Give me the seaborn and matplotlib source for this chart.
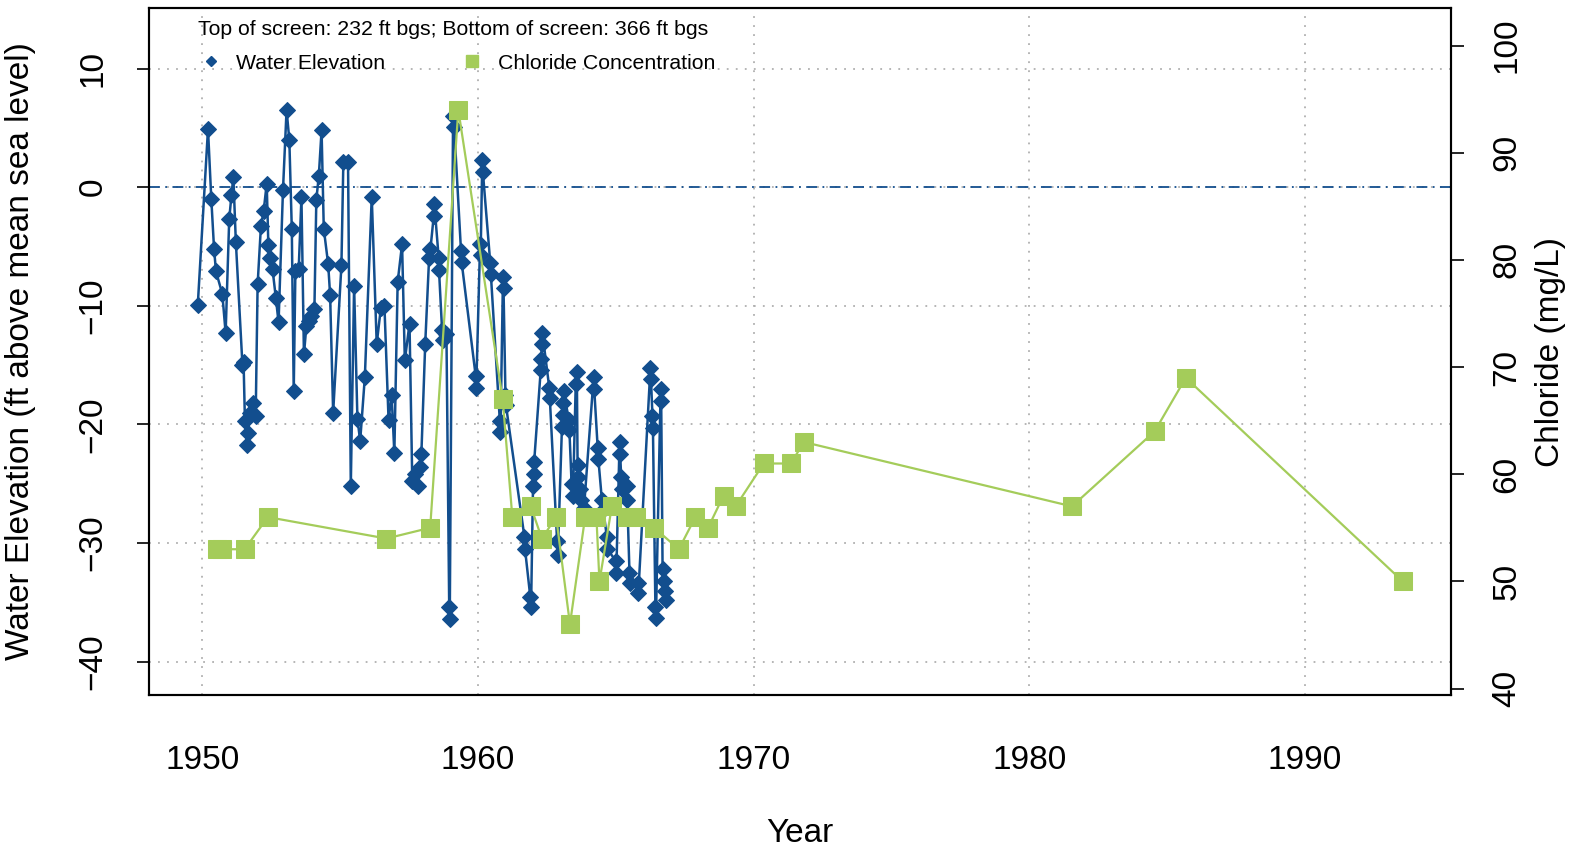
import numpy as np
import pandas as pd
import seaborn as sns
import matplotlib.pyplot as plt
from matplotlib.lines import Line2D

# Water elevation (ft above mean sea level)
water_year = [
    1949.84, 1950.21, 1950.33, 1950.43, 1950.50, 1950.73, 1950.85, 1950.98, 1951.06, 1951.13,
    1951.22, 1951.46, 1951.50, 1951.55, 1951.62, 1951.66, 1951.74, 1951.85, 1951.94, 1952.01,
    1952.13, 1952.23, 1952.34, 1952.40, 1952.47, 1952.55, 1952.67, 1952.77, 1952.93, 1953.06,
    1953.16, 1953.25, 1953.32, 1953.38, 1953.50, 1953.60, 1953.69, 1953.78, 1953.86, 1953.96,
    1954.07, 1954.14, 1954.23, 1954.33, 1954.41, 1954.57, 1954.64, 1954.75, 1955.05, 1955.12,
    1955.29, 1955.39, 1955.51, 1955.63, 1955.73, 1955.90, 1956.15, 1956.33, 1956.48, 1956.61,
    1956.76, 1956.87, 1956.97, 1957.09, 1957.25, 1957.35, 1957.52, 1957.62, 1957.71, 1957.82,
    1957.91, 1957.95, 1958.09, 1958.23, 1958.28, 1958.40, 1958.42, 1958.58, 1958.59, 1958.70,
    1958.72, 1958.86, 1958.96, 1958.98, 1959.10, 1959.14, 1959.39, 1959.41, 1959.92, 1959.94,
    1960.08, 1960.10, 1960.16, 1960.18, 1960.45, 1960.47, 1960.80, 1960.82, 1960.91, 1960.93,
    1961.00, 1961.02, 1961.69, 1961.71, 1961.90, 1961.93, 1962.00, 1962.02, 1962.04, 1962.28,
    1962.30, 1962.32, 1962.34, 1962.59, 1962.61, 1962.88, 1962.90, 1963.05, 1963.07, 1963.09,
    1963.11, 1963.30, 1963.32, 1963.40, 1963.45, 1963.55, 1963.59, 1963.62, 1963.64, 1963.70,
    1963.75, 1963.85, 1964.20, 1964.22, 1964.35, 1964.37, 1964.50, 1964.55, 1964.68, 1964.70,
    1965.00, 1965.02, 1965.14, 1965.16, 1965.20, 1965.22, 1965.40, 1965.42, 1965.50, 1965.52,
    1965.80, 1965.82, 1966.26, 1966.28, 1966.33, 1966.35, 1966.44, 1966.46, 1966.63, 1966.65,
    1966.70, 1966.75, 1966.80, 1966.82,
]
water_elev = [
    -9.9, 4.9, -1.0, -5.2, -7.1, -9.0, -12.3, -2.7, -0.7, 0.85,
    -4.6, -15.0, -14.7, -19.7, -21.7, -20.7, -19.0, -18.2, -19.3, -8.2,
    -3.3, -2.0, 0.3, -4.9, -6.0, -6.9, -9.3, -11.4, -0.25, 6.5,
    4.0, -3.5, -17.2, -7.1, -6.9, -0.85, -14.1, -11.7, -11.3, -10.9,
    -10.3, -1.05, 0.96, 4.8, -3.5, -6.5, -9.1, -19.0, -6.6, 2.1,
    2.15, -25.2, -8.3, -19.5, -21.4, -16.0, -0.8, -13.2, -10.2, -10.0,
    -19.6, -17.5, -22.4, -8.0, -4.8, -14.6, -11.5, -24.8, -24.2, -25.2,
    -23.6, -22.5, -13.2, -6.0, -5.2, -2.4, -1.4, -6.0, -7.0, -12.0,
    -12.9, -12.4, -35.4, -36.4, 6.0, 5.1, -5.4, -6.3, -15.9, -16.9,
    -4.8, -5.7, 2.3, 1.3, -6.4, -7.3, -19.7, -20.6, -7.6, -8.5,
    -17.5, -18.4, -29.5, -30.5, -34.5, -35.4, -25.2, -24.2, -23.2, -15.4,
    -14.5, -13.2, -12.3, -16.9, -17.8, -29.8, -31.0, -20.2, -19.2, -18.2,
    -17.2, -19.6, -20.5, -25.0, -26.0, -16.6, -15.6, -24.4, -23.4, -25.4,
    -26.4, -27.0, -16.0, -17.0, -22.0, -22.9, -26.4, -27.2, -29.5, -30.5,
    -31.5, -32.5, -21.5, -22.5, -24.4, -25.4, -25.2, -26.4, -32.5, -33.4,
    -33.4, -34.2, -15.2, -16.2, -19.3, -20.3, -35.4, -36.3, -17.0, -18.0,
    -32.2, -33.2, -34.0, -34.8,
]

# Chloride concentration (mg/L)
chloride_year = [
    1950.55, 1950.70, 1951.54, 1952.38, 1956.68, 1958.27, 1959.29, 1960.90, 1961.25, 1961.92,
    1962.32, 1962.84, 1963.34, 1963.89, 1964.30, 1964.41, 1964.86, 1965.40, 1965.75, 1966.40,
    1967.29, 1967.89, 1968.35, 1968.91, 1969.35, 1970.37, 1971.35, 1971.83, 1981.55, 1984.55,
    1985.68, 1993.55,
]
chloride_val = [
    53, 53, 53, 56, 54, 55, 94, 67, 56, 57,
    54, 56, 46, 56, 56, 50, 57, 56, 56, 55,
    53, 56, 55, 58, 57, 61, 61, 63, 57, 64,
    69, 50,
]

year_ticks = [1950, 1960, 1970, 1980, 1990]
elev_ticks = [10, 0, -10, -20, -30, -40]
chloride_ticks = [40, 50, 60, 70, 80, 90, 100]

blue = '#124E8E'
green = '#A4CC5A'

sns.set_style('white', {'text.color': 'black', 'axes.labelcolor': 'black',
                        'xtick.color': 'black', 'ytick.color': 'black'})
plt.rcParams['font.family'] = ['Liberation Sans', 'DejaVu Sans']

fig = plt.figure(figsize=(15.8, 8.46), dpi=100)
ax = fig.add_axes([149 / 1580, 1 - 695 / 846, (1451 - 149) / 1580, (695 - 8) / 846])

water = pd.DataFrame({'year': water_year, 'elev': water_elev})
chloride = pd.DataFrame({'year': chloride_year, 'val': chloride_val})

# grid and zero reference line
for yr in year_ticks:
    ax.axvline(yr, color='#b0b0b0', linestyle=(0, (1, 4)), linewidth=1.3, zorder=0)
for e in elev_ticks:
    ax.axhline(e, color='#b0b0b0', linestyle=(0, (1, 4)), linewidth=1.3, zorder=0)
ax.axhline(0, color=blue, linestyle=(0, (6, 3, 1, 3)), linewidth=1.3, zorder=1)

sns.lineplot(data=water, x='year', y='elev', ax=ax, color=blue, linewidth=1.8,
             marker='D', markersize=8.5, markeredgecolor=blue, estimator=None,
             sort=False, zorder=3)

ax.set_xlim(1948.07, 1995.3)
ax.set_ylim(-42.8, 15.1)
ax.set_xticks(year_ticks)
ax.set_yticks(elev_ticks)
ax.set_yticklabels([str(t).replace('-', '\u2212') for t in elev_ticks], rotation=90, va='center')
ax.tick_params(axis='both', labelsize=24, length=9, width=1.2, direction='out',
               color='black', labelcolor='black')
ax.tick_params(axis='x', pad=27)
ax.tick_params(axis='y', pad=20)
ax.set_xlabel('Year', fontsize=24, labelpad=30, color='black')
ax.set_ylabel('Water Elevation (ft above mean sea level)', fontsize=24, labelpad=30, color='black')
for s in ax.spines.values():
    s.set_color('black')
    s.set_linewidth(1.5)

ax2 = ax.twinx()
sns.lineplot(data=chloride, x='year', y='val', ax=ax2, color=green, linewidth=1.6,
             marker='s', markersize=13.5, markeredgecolor=green, estimator=None,
             sort=False, zorder=4)
ax2.set_ylim(39.4, 103.5)
ax2.set_yticks(chloride_ticks)
ax2.set_yticklabels([str(t) for t in chloride_ticks], rotation=90, va='center')
ax2.tick_params(axis='y', labelsize=24, length=9, width=1.2, direction='out', pad=20,
                color='black', labelcolor='black')
ax2.set_ylabel('Chloride (mg/L)', fontsize=24, rotation=90, labelpad=9, color='black')
ax2.set_xlabel('')
for s in ax2.spines.values():
    s.set_color('black')
    s.set_linewidth(1.5)

handles = [
    Line2D([], [], color=blue, marker='D', linestyle='none', markersize=5),
    Line2D([], [], color=green, marker='s', linestyle='none', markersize=8),
]
leg = ax2.legend(handles, ['Water Elevation', 'Chloride Concentration'], ncol=2,
                 title='Top of screen: 232 ft bgs; Bottom of screen: 366 ft bgs',
                 title_fontsize=15.3, fontsize=15.3, frameon=False, loc='upper left',
                 bbox_to_anchor=(0.031, 0.995), handletextpad=0.6, columnspacing=3.5,
                 handlelength=1.2, borderaxespad=0, labelspacing=0.7,
                 labelcolor='black')
leg.get_title().set_color('black')
leg._legend_box.align = 'left'

plt.savefig('out.png', dpi=100)
